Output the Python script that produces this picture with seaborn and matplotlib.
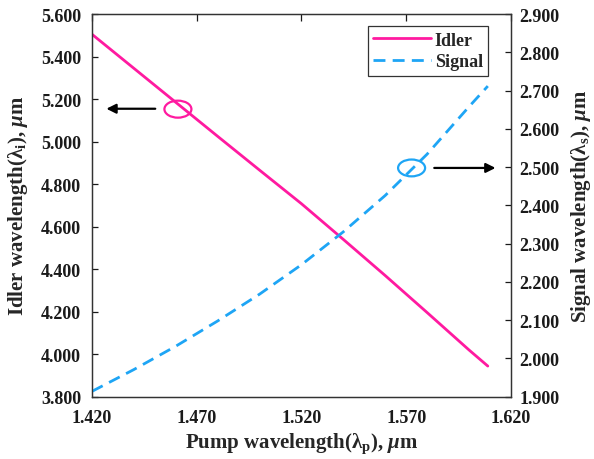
import matplotlib
matplotlib.use("Agg")
import matplotlib.pyplot as plt
import seaborn as sns
import pandas as pd
from matplotlib.patches import Ellipse

pump = [1.420, 1.440, 1.460, 1.480, 1.500, 1.520, 1.540, 1.560, 1.580, 1.600, 1.609]
idler = [5.505, 5.345, 5.185, 5.025, 4.866, 4.708, 4.540, 4.370, 4.196, 4.020, 3.944]
signal = [1.914, 1.971, 2.032, 2.098, 2.168, 2.245, 2.331, 2.426, 2.534, 2.658, 2.712]
xticks = [1.420, 1.470, 1.520, 1.570, 1.620]
left_ticks = [3.8, 4.0, 4.2, 4.4, 4.6, 4.8, 5.0, 5.2, 5.4, 5.6]
right_ticks = [1.9, 2.0, 2.1, 2.2, 2.3, 2.4, 2.5, 2.6, 2.7, 2.8, 2.9]

sns.set_style("white")
plt.rcParams['font.family'] = ['Liberation Serif', 'DejaVu Serif']
plt.rcParams['font.weight'] = 'bold'
plt.rcParams['mathtext.fontset'] = 'custom'
plt.rcParams['mathtext.rm'] = 'Liberation Serif:bold'
plt.rcParams['mathtext.it'] = 'Liberation Serif:italic:bold'
plt.rcParams['mathtext.bf'] = 'Liberation Serif:bold'

df = pd.DataFrame({"pump": pump, "idler": idler, "signal": signal})

fig = plt.figure(figsize=(5.94, 4.60), dpi=100)
ax = fig.add_axes([0.155, 0.1355, 0.705, 0.8315])
ax2 = ax.twinx()

pink = "#FF1AA0"
blue = "#1EA5F5"
sns.lineplot(data=df, x="pump", y="idler", ax=ax, color=pink, lw=2.0, label="Idler", legend=False)
sns.lineplot(data=df, x="pump", y="signal", ax=ax2, color=blue, lw=2.0,
             linestyle=(0, (4.3, 2.6)), label="Signal", legend=False)

ax.set_xlim(1.42, 1.62)
ax.set_ylim(3.8, 5.6)
ax2.set_ylim(1.9, 2.9)
ax.set_xticks(xticks)
ax.set_xticklabels([f"{v:.3f}" for v in xticks])
ax.set_yticks(left_ticks)
ax.set_yticklabels([f"{v:.3f}" for v in left_ticks])
ax2.set_yticks(right_ticks)
ax2.set_yticklabels([f"{v:.3f}" for v in right_ticks])

for a in (ax, ax2):
    a.tick_params(axis='both', labelsize=13, colors='#1a1a1a')
    for s in a.spines.values():
        s.set_color('#333333')
        s.set_linewidth(0.9)
ax.tick_params(axis='x', direction='in', length=5, width=0.9, top=True, pad=9)
ax.tick_params(axis='y', direction='in', length=4, width=0.9, pad=8)
ax2.tick_params(axis='y', direction='in', length=4, width=0.9, pad=6)

ax.set_xlabel(r"Pump wavelength($\mathrm{\lambda}_\mathrm{p}$), $\mu$m", fontsize=15, fontweight='bold', labelpad=3)
ax.set_ylabel(r"Idler wavelength($\mathrm{\lambda}_\mathrm{i}$), $\mu$m", fontsize=15, fontweight='bold', labelpad=8)
ax2.set_ylabel(r"Signal wavelength($\mathrm{\lambda}_\mathrm{s}$), $\mu$m", fontsize=15, fontweight='bold', labelpad=7)

# annotations
ax.add_patch(Ellipse((1.461, 5.153), 0.0129, 0.08, fill=False, edgecolor=pink, lw=1.6))
ax.annotate("", xy=(1.4255, 5.155), xytext=(1.4515, 5.155),
            arrowprops=dict(arrowstyle="-|>", color="black", lw=1.6, mutation_scale=14))
ax2.add_patch(Ellipse((1.5726, 2.498), 0.0129, 0.044, fill=False, edgecolor=blue, lw=1.6))
ax2.annotate("", xy=(1.6140, 2.498), xytext=(1.5821, 2.498),
             arrowprops=dict(arrowstyle="-|>", color="black", lw=1.6, mutation_scale=14),
             annotation_clip=False)

h1, l1 = ax.get_legend_handles_labels()
h2, l2 = ax2.get_legend_handles_labels()
leg = ax2.legend(h1 + h2, l1 + l2, loc='upper right', bbox_to_anchor=(0.955, 0.978),
                 fontsize=13, handlelength=3.2, handletextpad=0.2, borderpad=0.3,
                 labelspacing=0.25, fancybox=False, framealpha=1, edgecolor='#333333',
                 borderaxespad=0.2)
leg.get_frame().set_linewidth(0.9)

fig.savefig("out.png", dpi=100)
